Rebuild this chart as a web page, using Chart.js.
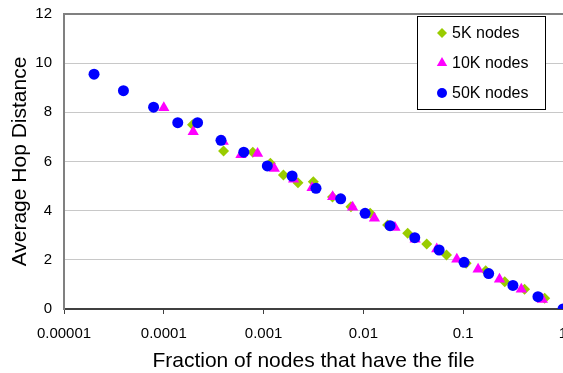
<!DOCTYPE html>
<html>
<head>
<meta charset="utf-8">
<script src="https://cdn.jsdelivr.net/npm/chart.js@4/dist/chart.umd.min.js"></script>
<style>
  html, body { margin: 0; padding: 0; background: #fff; }
  #chart { display: block; }
</style>
</head>
<body>
<canvas id="chart" width="563" height="373"></canvas>
<script>
// Series data (fraction of nodes, average hop distance)
const seriesNames = ["5K nodes", "10K nodes", "50K nodes"];

const x5k = [1.94e-4, 3.97e-4, 7.8e-4, 1.17e-3, 1.58e-3, 2.21e-3, 3.15e-3, 4.9e-3, 7.5e-3, 0.0117,
  0.0175, 0.0278, 0.0431, 0.068, 0.107, 0.168, 0.261, 0.412, 0.655];
const y5k = [7.49, 6.43, 6.38, 5.93, 5.45, 5.14, 5.18, 4.56, 4.16, 3.89,
  3.42, 3.08, 2.64, 2.20, 1.86, 1.56, 1.11, 0.80, 0.44];

const x10k = [1.0e-4, 1.97e-4, 3.94e-4, 5.93e-4, 8.7e-4, 1.28e-3, 2.0e-3, 3.06e-3, 4.92e-3, 7.8e-3,
  0.0129, 0.0207, 0.033, 0.0543, 0.0863, 0.141, 0.231, 0.382, 0.621];
const y10k = [8.19, 7.21, 6.81, 6.27, 6.33, 5.72, 5.28, 4.93, 4.57, 4.14,
  3.69, 3.32, 2.84, 2.44, 2.02, 1.62, 1.21, 0.80, 0.39];

const x50k = [2e-5, 3.94e-5, 7.9e-5, 1.38e-4, 2.18e-4, 3.74e-4, 6.33e-4, 1.09e-3, 1.93e-3, 3.35e-3,
  5.92e-3, 0.0104, 0.0185, 0.0327, 0.0574, 0.102, 0.18, 0.315, 0.561, 1];
const y50k = [9.55, 8.88, 8.21, 7.58, 7.58, 6.86, 6.38, 5.82, 5.41, 4.91,
  4.48, 3.89, 3.39, 2.90, 2.40, 1.90, 1.44, 0.96, 0.50, 0];

const xTicks = [0.00001, 0.0001, 0.001, 0.01, 0.1, 1];
const xTickLabels = ["0.00001", "0.0001", "0.001", "0.01", "0.1", "1"];

const colors = ["#99cc00", "#ff00ff", "#0000ff"];
const styles = ["rectRot", "triangle", "circle"];
const radii = [5.5, 6.5, 5.5];

function toPoints(xs, ys) {
  return xs.map((x, i) => ({ x: x, y: ys[i] }));
}

const FONT = "'Liberation Sans', Arial, sans-serif";
Chart.defaults.font.family = FONT;
Chart.defaults.color = "#000";

// Draw a marker shape by hand for the legend box
function drawMarker(ctx, style, x, y, r, color) {
  ctx.save();
  ctx.fillStyle = color;
  ctx.beginPath();
  if (style === "circle") {
    ctx.arc(x, y, r, 0, Math.PI * 2);
  } else if (style === "triangle") {
    ctx.moveTo(x, y - r);
    ctx.lineTo(x + r * Math.sin(2 * Math.PI / 3), y - r * Math.cos(2 * Math.PI / 3));
    ctx.lineTo(x + r * Math.sin(4 * Math.PI / 3), y - r * Math.cos(4 * Math.PI / 3));
  } else {
    ctx.moveTo(x, y - r);
    ctx.lineTo(x + r, y);
    ctx.lineTo(x, y + r);
    ctx.lineTo(x - r, y);
  }
  ctx.closePath();
  ctx.fill();
  ctx.restore();
}

const framePlugin = {
  id: "frame",
  afterDraw(chart) {
    const ctx = chart.ctx;
    const a = chart.chartArea;
    ctx.save();
    // top border of plot area
    ctx.strokeStyle = "#808080";
    ctx.lineWidth = 2;
    ctx.beginPath();
    ctx.moveTo(a.left - 1, a.top);
    ctx.lineTo(a.right, a.top);
    ctx.stroke();

    // legend box
    ctx.fillStyle = "#fff";
    ctx.fillRect(417.5, 16.5, 128, 93);
    ctx.strokeStyle = "#000";
    ctx.lineWidth = 1;
    ctx.strokeRect(417.5, 16.5, 128, 93);
    ctx.font = "16px " + FONT;
    ctx.textBaseline = "middle";
    seriesNames.forEach((name, i) => {
      const cy = 33 + i * 30;
      drawMarker(ctx, styles[i], 442, cy, i === 1 ? 6 : 5, colors[i]);
      ctx.fillStyle = "#000";
      ctx.fillText(name, 452, cy + 1);
    });
    ctx.restore();
  },
};

new Chart(document.getElementById("chart"), {
  type: "scatter",
  data: {
    datasets: [
      { label: seriesNames[0], data: toPoints(x5k, y5k), order: 3 },
      { label: seriesNames[1], data: toPoints(x10k, y10k), order: 2 },
      { label: seriesNames[2], data: toPoints(x50k, y50k), order: 1 },
    ].map((d, i) => Object.assign(d, {
      pointStyle: styles[i],
      pointRadius: radii[i],
      pointHoverRadius: radii[i],
      backgroundColor: colors[i],
      borderColor: colors[i],
      borderWidth: 0,
    })),
  },
  options: {
    responsive: false,
    devicePixelRatio: 1,
    animation: false,
    layout: { autoPadding: false, padding: { top: 14, right: 0, left: 0, bottom: 0 } },
    plugins: {
      legend: { display: false },
      tooltip: { enabled: false },
    },
    scales: {
      x: {
        type: "logarithmic",
        min: 0.00001,
        max: 1,
        afterBuildTicks: (scale) => {
          scale.ticks = xTicks.map((v) => ({ value: v }));
        },
        afterFit: (scale) => {
          scale.height = 64;
          scale.paddingLeft = 0;
          scale.paddingRight = 0;
        },
        ticks: {
          autoSkip: false,
          maxRotation: 0,
          padding: 11,
          font: { size: 15 },
          callback: (v) => {
            const i = xTicks.findIndex((t) => Math.abs(t - v) / t < 1e-6);
            return i >= 0 ? xTickLabels[i] : "";
          },
        },
        grid: {
          drawOnChartArea: false,
          drawTicks: true,
          tickLength: 5,
          tickWidth: 1,
          tickColor: "#404040",
        },
        border: { display: true, color: "#404040", width: 2 },
        title: {
          display: true,
          text: "Fraction of nodes that have the file",
          font: { size: 21, lineHeight: 1.1 },
          padding: { top: 0, bottom: 0 },
        },
      },
      y: {
        min: 0,
        max: 12,
        afterFit: (scale) => {
          scale.width = 64;
          scale.paddingTop = 0;
          scale.paddingBottom = 0;
        },
        ticks: {
          stepSize: 2,
          padding: 12,
          font: { size: 15 },
        },
        grid: {
          color: "#c8c8c8",
          lineWidth: 1,
          drawTicks: false,
        },
        border: { display: true, color: "#808080", width: 2 },
        title: {
          display: true,
          text: "Average Hop Distance",
          font: { size: 21 },
          padding: { top: 8, bottom: 0 },
        },
      },
    },
  },
  plugins: [framePlugin],
});
</script>
</body>
</html>
